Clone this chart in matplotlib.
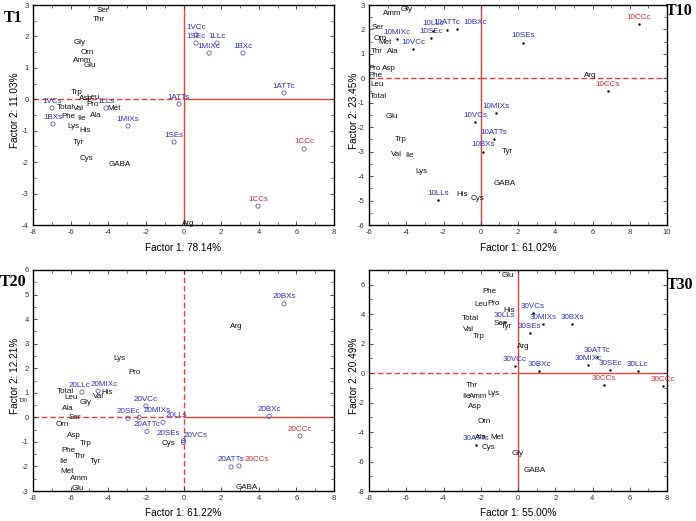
import matplotlib
matplotlib.use('Agg')
import matplotlib.pyplot as plt
from matplotlib.ticker import MultipleLocator, AutoMinorLocator

plt.rcParams['font.family'] = ['Liberation Sans', 'DejaVu Sans']
plt.rcParams['axes.unicode_minus'] = False

# ---------------- data ----------------
t1_obs = ['1VCc', '1SEc', '1LLc', '1MIXc', '1BXc', '1ATTc', '1ATTs', '1SEs', '1CCc', '1CCs',
          '1VCs', '1BXs', '1LLs', '1MIXs']
t1_ox = [0.67, 0.67, 1.78, 1.36, 3.16, 5.34, -0.24, -0.5, 6.41, 3.96, -6.99, -6.94, -4.12, -2.95]
t1_oy = [2.05, 1.79, 1.79, 1.47, 1.47, 0.2, -0.15, -1.36, -1.58, -3.4, -0.28, -0.79, -0.28, -0.85]
t1_vars = ['Ser', 'Thr', 'Gly', 'Orn', 'Amm', 'Glu', 'Trp', 'Asp', 'Leu', 'Total', 'Val', 'Pro',
           'Met', 'Phe', 'Ile', 'Ala', 'Lys', 'His', 'Tyr', 'Cys', 'GABA', 'Arg']
t1_vx = [-4.28, -4.49, -5.5, -5.13, -5.4, -4.97, -5.66, -5.18, -4.8, -6.3, -5.6, -4.86,
         -3.69, -6.14, -5.4, -4.65, -5.87, -5.24, -5.6, -5.13, -3.37, 0.24]
t1_vy = [2.84, 2.55, 1.82, 1.5, 1.25, 1.06, 0.23, 0.04, 0.07, -0.25, -0.28, -0.18,
         -0.28, -0.56, -0.6, -0.53, -0.88, -0.98, -1.36, -1.87, -2.09, -3.94]

t10_obs = ['10MIXc', '10VCc', '10SEc', '10LLc', '10ATTc', '10BXc', '10SEs', '10CCc', '10CCs',
           '10MIXs', '10VCs', '10ATTs', '10BXs', '10LLs']
t10_ox = [-4.5, -3.64, -2.67, -2.56, -1.81, -1.28, 2.27, 8.49, 6.83, 0.82, -0.31, 0.71, 0.12, -2.3]
t10_oy = [1.61, 1.2, 1.65, 1.94, 1.98, 2.02, 1.45, 2.22, -0.52, -1.42, -1.79, -2.48, -3.01, -4.98]
t10_vars = ['Amm', 'Gly', 'Ser', 'Orn', 'Met', 'Thr', 'Ala', 'Pro', 'Asp', 'Phe', 'Leu', 'Total',
            'Glu', 'Trp', 'Val', 'Ile', 'Lys', 'His', 'Cys', 'Tyr', 'GABA', 'Arg']
t10_vx = [-4.77, -3.96, -5.52, -5.4, -5.14, -5.57, -4.71, -5.68, -4.93, -5.68, -5.57, -5.52,
          -4.77, -4.28, -4.5, -3.8, -3.2, -1.0, -0.2, 1.41, 1.3, 5.86]
t10_vy = [2.67, 2.8, 2.06, 1.65, 1.45, 1.08, 1.08, 0.42, 0.42, 0.1, -0.27, -0.76,
          -1.58, -2.52, -3.1, -3.14, -3.83, -4.77, -4.9, -3.01, -4.32, 0.1]

t20_obs = ['20BXs', '20LLc', '20MIXc', '20VCc', '20SEc', '20MIXs', '20ATTc', '20LLs', '20SEs',
           '20VCs', '20BXc', '20CCc', '20ATTs', '20CCs']
t20_ox = [5.34, -5.4, -4.54, -2.0, -2.95, -2.36, -1.94, -1.09, 0.0, 0.0, 4.55, 6.19, 2.53, 2.95]
t20_oy = [4.62, 1.03, 1.07, 0.46, -0.04, 0.0, -0.57, -0.2, -0.95, -1.02, 0.04, -0.76, -2.02, -1.98]
t20_vars = ['Arg', 'Lys', 'Pro', 'Total', 'His', 'Leu', 'Gly', 'Val', 'Ala', 'Ser', 'Orn', 'Asp',
            'Trp', 'Phe', 'Thr', 'Tyr', 'Ile', 'Met', 'Amm', 'Glu', 'Cys', 'GABA']
t20_vx = [2.79, -3.43, -2.58, -6.3, -4.07, -5.98, -5.18, -4.54, -6.14, -5.77, -6.46, -5.82,
          -5.18, -6.14, -5.5, -4.7, -6.4, -6.2, -5.55, -5.6, -0.82, 3.38]
t20_vy = [3.68, 2.38, 1.81, 1.07, 1.03, 0.79, 0.62, 0.83, 0.38, 0.0, -0.31, -0.72,
          -1.08, -1.37, -1.61, -1.78, -1.78, -2.22, -2.51, -2.88, -1.06, -2.84]

t30_obs = ['30VCs', '30LLs', '30MIXs', '30BXs', '30SEs', '30VCc', '30BXc', '30ATTc', '30MIXc',
           '30SEc', '30LLc', '30CCs', '30CCc', '30ATTs']
t30_ox = [0.8, -0.7, 1.34, 2.9, 0.64, -0.16, 1.13, 4.24, 3.76, 4.94, 6.44, 4.62, 7.78, -2.25]
t30_oy = [4.07, 3.46, 3.33, 3.33, 2.72, 0.48, 0.14, 1.09, 0.54, 0.2, 0.14, -0.81, -0.88, -4.9]
t30_vars = ['Glu', 'Phe', 'Leu', 'Pro', 'His', 'Total', 'Ser', 'Tyr', 'Val', 'Trp', 'Arg', 'Thr',
            'Ile', 'Amm', 'Lys', 'Asp', 'Orn', 'Ala', 'Met', 'Cys', 'Gly', 'GABA']
t30_vx = [-0.54, -1.56, -1.99, -1.29, -0.48, -2.58, -0.97, -0.64, -2.68, -2.09, 0.27, -2.47,
          -2.79, -2.15, -1.34, -2.31, -1.83, -1.99, -1.13, -1.56, 0.0, 0.91]
t30_vy = [6.65, 5.57, 4.68, 4.75, 4.28, 3.73, 3.39, 3.19, 2.99, 2.51, 1.83, -0.81,
          -1.56, -1.56, -1.36, -2.24, -3.26, -4.34, -4.34, -5.02, -5.43, -6.59]

# label nudges (points) for crowded observation labels
nudge = {'20LLc': (-2, 0), '20MIXc': (4, 0), '20MIXs': (13, 0), '20LLs': (10, 0),
         '20SEs': (-11, 0), '20VCs': (9, 0), '20CCs': (13, 0), '10BXc': (13, 0)}

BLUE = '#2d2dc0'
RED = '#d42a2a'
LINE = '#e8413c'
FS = 5.8

fig = plt.figure(figsize=(6.96, 5.21), dpi=100)
W, H = 696.0, 521.0


def add_ax(x0, y0, x1, y1):
    return fig.add_axes([x0 / W, 1 - y1 / H, (x1 - x0) / W, (y1 - y0) / H])


def seg(ax, xs, ys, style):
    if style == '--':
        ax.plot(xs, ys, color=LINE, lw=1.0, ls='--', dashes=(4, 2), zorder=1)
    else:
        ax.plot(xs, ys, color=LINE, lw=1.0, ls='-', zorder=1)


def panel(ax, obs, ox, oy, vnames, vx, vy, xlim, ylim, xstep, ystep, xlab, ylab,
          open_marker, hstyle, vstyle, ylab_x, xlab_y):
    ax.set_xlim(*xlim)
    ax.set_ylim(*ylim)
    seg(ax, [xlim[0], 0], [0, 0], hstyle[0])
    seg(ax, [0, xlim[1]], [0, 0], hstyle[1])
    seg(ax, [0, 0], [ylim[0], ylim[1]], vstyle)
    if open_marker:
        ax.scatter(ox, oy, s=9, facecolors='none', edgecolors='#5a5ab4', linewidths=0.6, zorder=3)
    else:
        ax.scatter(ox, oy, s=3, c='black', linewidths=0, zorder=3)
    for n, x, y in zip(obs, ox, oy):
        col = RED if 'CC' in n else BLUE
        dx, dy = nudge.get(n, (0, 0))
        ax.annotate(n, (x, y), xytext=(dx, 5 + dy), textcoords='offset points',
                    ha='center', va='center', fontsize=FS, color=col, zorder=4)
    for n, x, y in zip(vnames, vx, vy):
        ax.text(x, y, n, ha='center', va='center', fontsize=FS, color='#111111', zorder=4)
    ax.xaxis.set_major_locator(MultipleLocator(xstep))
    ax.yaxis.set_major_locator(MultipleLocator(ystep))
    ax.xaxis.set_minor_locator(AutoMinorLocator(2))
    ax.yaxis.set_minor_locator(AutoMinorLocator(2))
    ax.tick_params(which='both', direction='in', top=True, right=True, labelsize=5.5,
                   colors='#333333', pad=3)
    ax.tick_params(which='major', length=3, width=0.6)
    ax.tick_params(which='minor', length=2, width=0.5)
    for s in ax.spines.values():
        s.set_linewidth(1.0)
    ax.set_xlabel(xlab, fontsize=7.2, va='center')
    ax.set_ylabel(ylab, fontsize=7.2, va='center')
    ax.xaxis.set_label_coords(0.5, xlab_y)
    ax.yaxis.set_label_coords(ylab_x, 0.52)


ax1 = add_ax(33, 5, 334, 225)
panel(ax1, t1_obs, t1_ox, t1_oy, t1_vars, t1_vx, t1_vy, (-8, 8), (-4, 3), 2, 1,
      'Factor 1: 78.14%', 'Factor 2: 11.03%', True, ('--', '-'), '-', -0.06, -0.105)

ax2 = add_ax(369, 5, 667, 225)
panel(ax2, t10_obs, t10_ox, t10_oy, t10_vars, t10_vx, t10_vy, (-6, 10), (-6, 3), 2, 1,
      'Factor 1: 61.02%', 'Factor 2: 23.45%', False, ('--', '--'), '-', -0.05, -0.105)

ax3 = add_ax(33, 270, 334, 491)
panel(ax3, t20_obs, t20_ox, t20_oy, t20_vars, t20_vx, t20_vy, (-8, 8), (-3, 6), 2, 1,
      'Factor 1: 61.22%', 'Factor 2: 12.21%', True, ('--', '-'), '--', -0.06, -0.1)

ax4 = add_ax(369, 270, 667, 491)
panel(ax4, t30_obs, t30_ox, t30_oy, t30_vars, t30_vx, t30_vy, (-8, 8), (-8, 7), 2, 2,
      'Factor 1: 55.00%', 'Factor 2: 20.49%', False, ('--', '-'), '-', -0.05, -0.1)

serif = ['Liberation Serif', 'DejaVu Serif']
fig.text(13 / W, 1 - 18 / H, 'T1', family=serif, fontweight='bold', fontsize=11.5, ha='center', va='center')
fig.text(679 / W, 1 - 11 / H, 'T10', family=serif, fontweight='bold', fontsize=11.5, ha='center', va='center')
fig.text(13 / W, 1 - 282 / H, 'T20', family=serif, fontweight='bold', fontsize=11.5, ha='center', va='center')
fig.text(680 / W, 1 - 285 / H, 'T30', family=serif, fontweight='bold', fontsize=11.5, ha='center', va='center')
fig.text(23 / W, 1 - 400 / H, 'T30', family=serif, fontsize=4, ha='center', va='center')

fig.savefig('out.png', dpi=100)
